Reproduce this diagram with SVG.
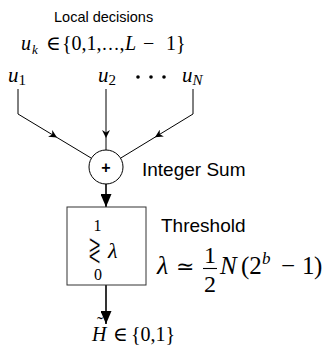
<svg xmlns="http://www.w3.org/2000/svg" width="323" height="352" viewBox="0 0 323 352">
<defs>
<marker id="small" viewBox="0 0 10 10" refX="10" refY="5" markerWidth="8" markerHeight="8" markerUnits="userSpaceOnUse" orient="auto"><path d="M0,0 L10,5 L0,10 L3,5 Z" fill="#000"/></marker>
<marker id="big" viewBox="0 0 10 10" refX="10" refY="5" markerWidth="13" markerHeight="11" markerUnits="userSpaceOnUse" orient="auto" preserveAspectRatio="none"><path d="M0,0 L10,5 L0,10 Z" fill="#000"/></marker>
<style>
.sans{font-family:"Liberation Sans",Arial,sans-serif;fill:#000}
.math{font-family:"Liberation Serif","DejaVu Serif",serif;fill:#000}
.sym{font-family:"DejaVu Serif",serif;fill:#000}
.it{font-style:italic}
.thin{stroke:#000;stroke-width:1;fill:none}
.thick{stroke:#000;stroke-width:1.6;fill:none}
</style>
</defs>
<g id="header">
<text class="sans" x="54" y="22" font-size="14.5">Local decisions</text>
<text class="math" y="50" font-size="20"><tspan class="it" x="21">u</tspan><tspan class="it" font-size="13" x="32" dy="4">k</tspan><tspan x="46" dy="-4">∈</tspan><tspan x="62">{0,1,<tspan font-size="18">…</tspan>,</tspan><tspan class="it" x="125">L</tspan><tspan x="143">−</tspan><tspan x="166">1}</tspan></text>
</g>
<g id="inputs">
<text class="math" x="8" y="82" font-size="21"><tspan class="it">u</tspan><tspan font-size="15" dy="3">1</tspan></text>
<text class="math" x="98" y="82" font-size="21"><tspan class="it">u</tspan><tspan font-size="15" dy="3">2</tspan></text>
<circle cx="138" cy="77" r="1.8" fill="#000"/>
<circle cx="151" cy="77" r="1.8" fill="#000"/>
<circle cx="164" cy="77" r="1.8" fill="#000"/>
<text class="math" x="182" y="82" font-size="21"><tspan class="it">u</tspan><tspan class="it" font-size="15" dy="3">N</tspan></text>
</g>
<g id="connectors">
<path class="thin" d="M18,89 V114 L57,137.5" marker-end="url(#small)"/>
<path class="thin" d="M57,137.5 L91.4,158.2"/>
<path class="thin" d="M106,89 V138" marker-end="url(#small)"/>
<path class="thin" d="M106,138 V150"/>
<path class="thin" d="M193,89 V114 L155,137.2" marker-end="url(#small)"/>
<path class="thin" d="M155,137.2 L120.5,158.2"/>
<path class="thick" d="M106,184 V207" marker-end="url(#big)"/>
<path class="thick" d="M106,285 V324" marker-end="url(#big)"/>
</g>
<g id="sum">
<circle cx="106" cy="167" r="17" fill="#fff" stroke="#000" stroke-width="1"/>
<text class="sans" x="106" y="172.5" font-size="16" text-anchor="middle" font-weight="bold">+</text>
<text class="sans" x="142" y="176" font-size="19">Integer Sum</text>
</g>
<g id="threshold">
<rect x="67" y="207" width="79" height="78" fill="#fff" stroke="#333" stroke-width="1"/>
<text class="math" x="97.5" y="231" font-size="16" text-anchor="middle">1</text>
<text class="sym" transform="translate(88,261) scale(0.75,1.6)" font-size="21" stroke="#fff" stroke-width="0.5">≷</text>
<text class="math it" x="108" y="258" font-size="22">λ</text>
<text class="math" x="98" y="280" font-size="16" text-anchor="middle">0</text>
<text class="sans" x="161" y="232" font-size="19">Threshold</text>
<text class="math it" x="157" y="274" font-size="26">λ</text>
<text class="sym" x="176" y="274" font-size="22">≃</text>
<text class="math" x="210" y="263" font-size="24" text-anchor="middle">1</text>
<line x1="203" y1="268.5" x2="217" y2="268.5" stroke="#000" stroke-width="1.1"/>
<text class="math" x="210" y="292" font-size="24" text-anchor="middle">2</text>
<text class="math" y="274" font-size="25"><tspan class="it" x="220">N</tspan><tspan x="241">(2</tspan><tspan class="it" font-size="17" x="262" dy="-10">b</tspan><tspan x="281" dy="10">−</tspan><tspan x="302">1</tspan><tspan x="314">)</tspan></text>
</g>
<g id="output">
<text class="math it" x="92" y="341" font-size="20">H</text>
<text class="math" x="97" y="330" font-size="18">˜</text>
<text class="math" y="341" font-size="20"><tspan x="113">∈</tspan><tspan x="131">{0,1}</tspan></text>
</g>
</svg>
